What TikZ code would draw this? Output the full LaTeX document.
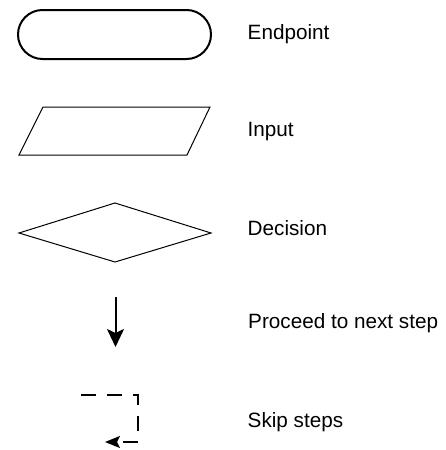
\documentclass[tikz,border=0pt]{standalone}
\usepackage{fontspec}
\setmainfont{Liberation Sans}
\usetikzlibrary{arrows.meta}
\begin{document}
\begin{tikzpicture}[x=1pt,y=-1pt,
  legendtext/.style={anchor=base west,inner sep=0pt,font=\fontsize{20.7}{24}\selectfont},
  thinshape/.style={draw=black,line width=1pt,line join=miter},
  flowarrow/.style={draw=black,line width=2pt,-{Stealth[length=18pt,width=17pt,inset=4pt]}},
  skiparrow/.style={draw=black,line width=2pt,dash pattern=on 15pt off 11pt,-{Stealth[length=15pt,width=12pt,inset=3pt]}}]
\useasboundingbox (0,0) rectangle (446,450);
% Endpoint
\draw[line width=2pt,rounded corners=24.5pt] (18,10) rectangle (211,59);
\node[legendtext] (tEnd) at (247.5,39) {Endpoint};
% Input
\coordinate (i1) at (43,107);
\coordinate (i2) at (210,107);
\coordinate (i3) at (187,155);
\coordinate (i4) at (19,155);
\draw[thinshape] (i1) -- (i2) -- (i3) -- (i4) -- cycle;
\node[legendtext] (tIn) at (247.5,136.7) {Input};
% Decision
\coordinate (d1) at (19,233);
\coordinate (d2) at (115,203);
\coordinate (d3) at (211,233);
\coordinate (d4) at (115,262);
\draw[thinshape] (d1) -- (d2) -- (d3) -- (d4) -- cycle;
\node[legendtext] (tDec) at (247.5,235) {Decision};
% Proceed arrow
\coordinate (a1) at (115.5,297);
\coordinate (a2) at (115.5,347);
\draw[flowarrow] (a1) -- (a2);
\node[legendtext] (tPro) at (248,328) {Proceed to next step};
% Skip steps arrow
\coordinate (s0) at (81,395);
\coordinate (s1) at (138,395);
\coordinate (s2) at (138,442);
\coordinate (s3) at (105,442);
\draw[skiparrow] (s0) -- (s1) -- (s2) -- (s3);
\node[legendtext] (tSkip) at (247.5,427) {Skip steps};
\end{tikzpicture}
\end{document}
